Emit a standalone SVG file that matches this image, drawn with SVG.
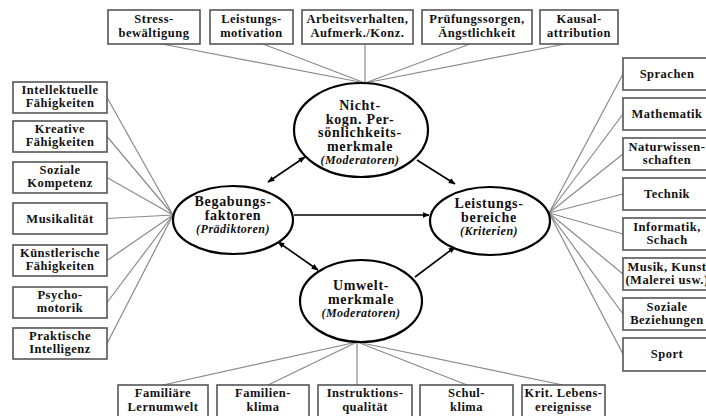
<svg xmlns="http://www.w3.org/2000/svg" width="706" height="416" viewBox="0 0 706 416">
<style>
.box{fill:#fff;stroke:#555;stroke-width:1.6}
.ell{fill:#fff;stroke:#000;stroke-width:2.2}
.t{font-family:"Liberation Serif","Times New Roman",serif;font-weight:bold;font-size:12.5px;letter-spacing:0.5px;text-anchor:middle;fill:#111}
.e{font-family:"Liberation Serif","Times New Roman",serif;font-weight:bold;font-size:14px;letter-spacing:0.7px;text-anchor:middle;fill:#111}
.i{font-family:"Liberation Serif","Times New Roman",serif;font-weight:bold;font-style:italic;font-size:12px;letter-spacing:0.5px;text-anchor:middle;fill:#111}
.fan{stroke:#8a8a8a;stroke-width:1.2;fill:none}
.arr{stroke:#000;stroke-width:1.6;fill:none}
</style>
<defs>
<marker id="ah" viewBox="0 0 10 10" refX="9" refY="5" markerWidth="7" markerHeight="7" orient="auto-start-reverse" markerUnits="userSpaceOnUse">
<path d="M0,1 L10,5 L0,9 Z" fill="#000"/>
</marker>
</defs>
<g id="connectors">
<line class="fan" x1="162" y1="44" x2="365" y2="83"/>
<line class="fan" x1="263" y1="44" x2="365" y2="83"/>
<line class="fan" x1="365" y1="44" x2="365" y2="83"/>
<line class="fan" x1="470" y1="44" x2="365" y2="83"/>
<line class="fan" x1="565" y1="44" x2="365" y2="83"/>
<line class="fan" x1="107" y1="97.5" x2="173" y2="215"/>
<line class="fan" x1="107" y1="136.5" x2="173" y2="215"/>
<line class="fan" x1="107" y1="177.5" x2="173" y2="215"/>
<line class="fan" x1="107" y1="218.5" x2="173" y2="215"/>
<line class="fan" x1="107" y1="260.5" x2="173" y2="215"/>
<line class="fan" x1="107" y1="302.5" x2="173" y2="215"/>
<line class="fan" x1="107" y1="343.5" x2="173" y2="215"/>
<line class="fan" x1="549" y1="213" x2="623" y2="74"/>
<line class="fan" x1="549" y1="213" x2="623" y2="114"/>
<line class="fan" x1="549" y1="213" x2="623" y2="154"/>
<line class="fan" x1="549" y1="213" x2="623" y2="194"/>
<line class="fan" x1="549" y1="213" x2="623" y2="234"/>
<line class="fan" x1="549" y1="213" x2="623" y2="274"/>
<line class="fan" x1="549" y1="213" x2="623" y2="314"/>
<line class="fan" x1="549" y1="213" x2="623" y2="354"/>
<line class="fan" x1="357" y1="342" x2="163" y2="385"/>
<line class="fan" x1="357" y1="342" x2="268" y2="385"/>
<line class="fan" x1="357" y1="342" x2="357" y2="385"/>
<line class="fan" x1="357" y1="342" x2="467" y2="385"/>
<line class="fan" x1="357" y1="342" x2="563" y2="385"/>
<line class="arr" x1="294" y1="215" x2="429" y2="215" marker-end="url(#ah)"/>
<line class="arr" x1="268" y1="182" x2="305" y2="157" marker-start="url(#ah)" marker-end="url(#ah)"/>
<line class="arr" x1="417" y1="160" x2="455" y2="184" marker-end="url(#ah)"/>
<line class="arr" x1="278" y1="242" x2="318" y2="270" marker-start="url(#ah)" marker-end="url(#ah)"/>
<line class="arr" x1="415" y1="277" x2="455" y2="247" marker-end="url(#ah)"/>
</g>
<g id="top1"><rect class="box" x="108" y="10" width="92" height="34"/><text class="t" x="154" y="23">Stress-</text><text class="t" x="154" y="37">bewältigung</text></g>
<g id="top2"><rect class="box" x="210" y="10" width="83" height="34"/><text class="t" x="251.5" y="23">Leistungs-</text><text class="t" x="251.5" y="37">motivation</text></g>
<g id="top3"><rect class="box" x="302" y="10" width="111" height="34"/><text class="t" x="357.5" y="23">Arbeitsverhalten,</text><text class="t" x="357.5" y="37">Aufmerk./Konz.</text></g>
<g id="top4"><rect class="box" x="422" y="10" width="110" height="34"/><text class="t" x="477" y="23">Prüfungssorgen,</text><text class="t" x="477" y="37">Ängstlichkeit</text></g>
<g id="top5"><rect class="box" x="540" y="10" width="78" height="34"/><text class="t" x="579" y="23">Kausal-</text><text class="t" x="579" y="37">attribution</text></g>
<g id="left1"><rect class="box" x="13" y="82" width="94" height="31"/><text class="t" x="60" y="94">Intellektuelle</text><text class="t" x="60" y="107">Fähigkeiten</text></g>
<g id="left2"><rect class="box" x="13" y="121" width="94" height="31"/><text class="t" x="60" y="133">Kreative</text><text class="t" x="60" y="146">Fähigkeiten</text></g>
<g id="left3"><rect class="box" x="13" y="162" width="94" height="31"/><text class="t" x="60" y="174">Soziale</text><text class="t" x="60" y="187">Kompetenz</text></g>
<g id="left4"><rect class="box" x="13" y="203" width="94" height="31"/><text class="t" x="60" y="223">Musikalität</text></g>
<g id="left5"><rect class="box" x="13" y="245" width="94" height="31"/><text class="t" x="60" y="257">Künstlerische</text><text class="t" x="60" y="270">Fähigkeiten</text></g>
<g id="left6"><rect class="box" x="13" y="287" width="94" height="31"/><text class="t" x="60" y="299">Psycho-</text><text class="t" x="60" y="312">motorik</text></g>
<g id="left7"><rect class="box" x="13" y="328" width="94" height="31"/><text class="t" x="60" y="340">Praktische</text><text class="t" x="60" y="353">Intelligenz</text></g>
<g id="right1"><rect class="box" x="623" y="58" width="95" height="32"/><text class="t" x="667" y="78">Sprachen</text></g>
<g id="right2"><rect class="box" x="623" y="98" width="95" height="32"/><text class="t" x="667" y="118">Mathematik</text></g>
<g id="right3"><rect class="box" x="623" y="138" width="95" height="32"/><text class="t" x="667" y="151">Naturwissen-</text><text class="t" x="667" y="164">schaften</text></g>
<g id="right4"><rect class="box" x="623" y="178" width="95" height="32"/><text class="t" x="667" y="198">Technik</text></g>
<g id="right5"><rect class="box" x="623" y="218" width="95" height="32"/><text class="t" x="667" y="231">Informatik,</text><text class="t" x="667" y="244">Schach</text></g>
<g id="right6"><rect class="box" x="623" y="258" width="95" height="32"/><text class="t" x="667" y="271">Musik, Kunst</text><text class="t" x="667" y="284">(Malerei usw.)</text></g>
<g id="right7"><rect class="box" x="623" y="298" width="95" height="32"/><text class="t" x="667" y="311">Soziale</text><text class="t" x="667" y="324">Beziehungen</text></g>
<g id="right8"><rect class="box" x="623" y="338" width="95" height="33"/><text class="t" x="667" y="358">Sport</text></g>
<g id="bot1"><rect class="box" x="118" y="385" width="90" height="40"/><text class="t" x="163" y="397">Familiäre</text><text class="t" x="163" y="411">Lernumwelt</text></g>
<g id="bot2"><rect class="box" x="217" y="385" width="92" height="40"/><text class="t" x="263" y="397">Familien-</text><text class="t" x="263" y="411">klima</text></g>
<g id="bot3"><rect class="box" x="318" y="385" width="94" height="40"/><text class="t" x="365" y="397">Instruktions-</text><text class="t" x="365" y="411">qualität</text></g>
<g id="bot4"><rect class="box" x="420" y="385" width="93" height="40"/><text class="t" x="466.5" y="397">Schul-</text><text class="t" x="466.5" y="411">klima</text></g>
<g id="bot5"><rect class="box" x="522" y="385" width="83" height="40"/><text class="t" x="563.5" y="397">Krit. Lebens-</text><text class="t" x="563.5" y="411">ereignisse</text></g>
<g id="nichtkogn"><ellipse class="ell" cx="361" cy="130" rx="67" ry="47"/><text class="e" x="360" y="110">Nicht-</text><text class="e" x="360" y="123.5">kogn. Per-</text><text class="e" x="360" y="137">sönlichkeits-</text><text class="e" x="360" y="150.5">merkmale</text><text class="i" x="360" y="163.5">(Moderatoren)</text></g>
<g id="begabung"><ellipse class="ell" cx="233" cy="220" rx="60" ry="34"/><text class="e" x="233" y="205.5">Begabungs-</text><text class="e" x="233" y="219.5">faktoren</text><text class="i" x="233" y="233">(Prädiktoren)</text></g>
<g id="leistung"><ellipse class="ell" cx="490" cy="221" rx="60" ry="34"/><text class="e" x="489" y="207.5">Leistungs-</text><text class="e" x="489" y="221.5">bereiche</text><text class="i" x="489" y="235">(Kriterien)</text></g>
<g id="umwelt"><ellipse class="ell" cx="361" cy="301" rx="61" ry="41"/><text class="e" x="361" y="290">Umwelt-</text><text class="e" x="361" y="303.5">merkmale</text><text class="i" x="361" y="317">(Moderatoren)</text></g>
</svg>
